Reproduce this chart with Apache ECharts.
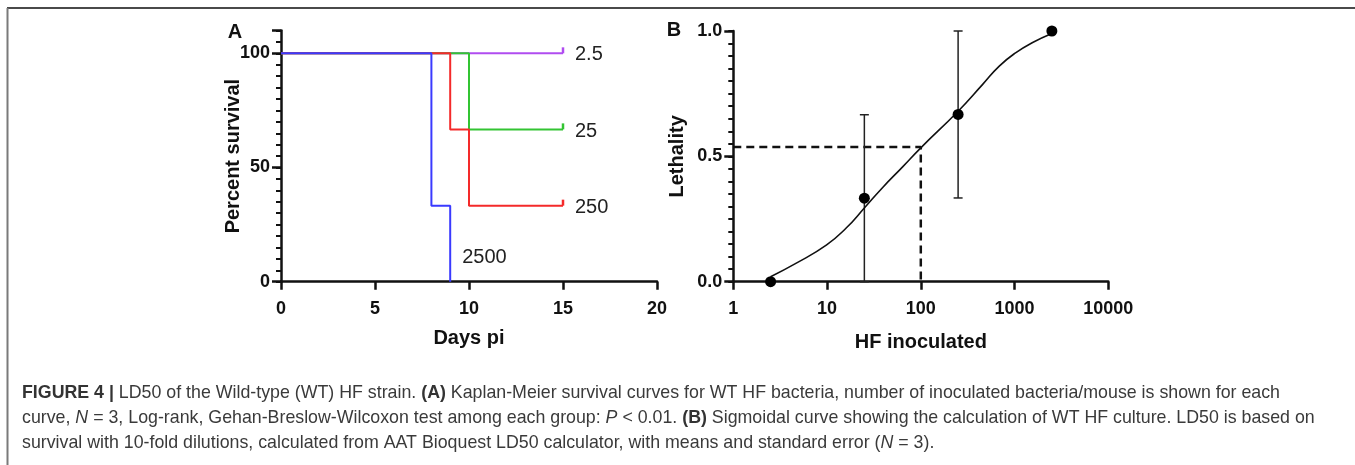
<!DOCTYPE html>
<html>
<head>
<meta charset="utf-8">
<script src="https://cdn.jsdelivr.net/npm/echarts@6/dist/echarts.min.js"></script>
<style>
html,body{margin:0;padding:0;background:#fff;}
#c{width:1355px;height:465px;}
</style>
</head>
<body>
<div id="c"></div>
<script>
// ---------- Panel A: Kaplan-Meier survival ----------
const groupNames = ['2.5', '25', '250', '2500'];
const survPurple = [[0, 100], [15, 100]];                 // 2.5
const survGreen  = [[0, 100], [10, 66.7], [15, 66.7]];    // 25
const survRed    = [[0, 100], [9, 66.7], [10, 33.3], [15, 33.3]]; // 250
const survBlue   = [[0, 100], [8, 33.3], [9, 0]];         // 2500
const daysTicks = [0, 5, 10, 15, 20];

// ---------- Panel B: LD50 sigmoid ----------
const doses      = [2.5, 25, 250, 2500];
const lethality  = [0, 0.333, 0.667, 1.0];
const lethSE     = [0, 0.333, 0.333, 0];
const fitCurve   = [[2.5, 0.02], [4.7, 0.074], [9.9, 0.147], [16, 0.214], [25, 0.294], [39, 0.375],
                    [64, 0.458], [100, 0.534], [250, 0.68], [457, 0.787], [687, 0.86], [1035, 0.914],
                    [1560, 0.954], [2500, 0.99]];
const ld50Dose = 100;
const ld50Leth = 0.537;

// ---------- Caption ----------
const captionLines = [
  '{b|FIGURE 4 |} LD50 of the Wild-type (WT) HF strain. {b|(A)} Kaplan-Meier survival curves for WT HF bacteria, number of inoculated bacteria/mouse is shown for each',
  'curve, {i|N} = 3, Log-rank, Gehan-Breslow-Wilcoxon test among each group: {i|P} < 0.01. {b|(B)} Sigmoidal curve showing the calculation of WT HF culture. LD50 is based on',
  'survival with 10-fold dilutions, calculated from AAT Bioquest LD50 calculator, with means and standard error ({i|N} = 3).'
];
const captionLineWidths = [1270, 1316, 866];   // measured widths of the caption lines in the figure

const chart = echarts.init(document.getElementById('c'), null, {renderer: 'canvas'});
const FONT = '"Liberation Sans", Arial, Helvetica, sans-serif';
const axisCol = '#111';

// least-squares fit of one caption font size to the measured line widths
const mctx = document.createElement('canvas').getContext('2d');
mctx.font = '16px ' + FONT;
let num = 0, den = 0;
captionLines.forEach((t, i) => {
  const w = mctx.measureText(t.replace(/\{[a-z]\|([^}]*)\}/g, '$1')).width;
  num += captionLineWidths[i] * w; den += w * w;
});
const capSize = Math.round(16 * num / den * 10) / 10;

function censor(pt) {
  return {value: pt, symbol: 'rect', symbolSize: [2.5, 6], symbolOffset: [0, -3]};
}
function kmSeries(name, data, color, censored, labelOffset) {
  const d = data.map((p, i) => (censored && i === data.length - 1) ? censor(p) : p);
  return {
    name: name, type: 'line', step: 'end', xAxisIndex: 0, yAxisIndex: 0,
    data: d, symbol: 'none', showSymbol: true, silent: true,
    lineStyle: {color: color, width: 2}, itemStyle: {color: color},
    endLabel: {show: true, formatter: '{a}', distance: 12, offset: labelOffset,
      color: '#222', fontSize: 20, fontFamily: FONT},
    animation: false, z: 3
  };
}

const errData = doses.map((d, i) => [d, lethality[i] - lethSE[i], lethality[i] + lethSE[i]])
  .filter((r, i) => lethSE[i] > 0);

const nameStyle = {color: '#111', fontSize: 20, fontWeight: 'bold', fontFamily: FONT};
const tickLabel = {color: '#111', fontSize: 18, fontWeight: 'bold', fontFamily: FONT};

const option = {
  animation: false,
  backgroundColor: '#fff',
  grid: [
    {left: 281, top: 30.5, width: 376, height: 251.2, containLabel: false},
    {left: 733.3, top: 31, width: 375, height: 250.7, containLabel: false}
  ],
  xAxis: [
    {gridIndex: 0, type: 'value', min: 0, max: 20, interval: 5,
      axisLine: {lineStyle: {color: axisCol, width: 2.5}},
      axisTick: {length: 8, lineStyle: {color: axisCol, width: 2.5}},
      axisLabel: Object.assign({margin: 18, formatter: v => daysTicks.indexOf(v) >= 0 ? String(v) : ''}, tickLabel),
      splitLine: {show: false},
      name: 'Days pi', nameLocation: 'middle', nameGap: 47, nameMoveOverlap: false,
      nameTextStyle: nameStyle},
    {gridIndex: 1, type: 'log', logBase: 10, min: 1, max: 10000,
      axisLine: {lineStyle: {color: axisCol, width: 2.5}},
      axisTick: {length: 8, lineStyle: {color: axisCol, width: 2.5}},
      axisLabel: Object.assign({margin: 18, formatter: v => String(Math.round(v))}, tickLabel),
      minorTick: {show: false}, splitLine: {show: false},
      name: 'HF inoculated', nameLocation: 'middle', nameGap: 51, nameMoveOverlap: false,
      nameTextStyle: nameStyle}
  ],
  yAxis: [
    {gridIndex: 0, type: 'value', min: 0, max: 110, interval: 5, position: 'left',
      axisLine: {show: true, lineStyle: {color: axisCol, width: 2.5}},
      axisTick: {show: true, length: 5, lineStyle: {color: axisCol, width: 2}},
      axisLabel: Object.assign({margin: 11, formatter: v => (v % 50 === 0 && v <= 100) ? String(v) : ''}, tickLabel),
      splitLine: {show: false},
      name: 'Percent survival', nameLocation: 'middle', nameGap: 38, nameMoveOverlap: false,
      nameTextStyle: nameStyle},
    {gridIndex: 0, type: 'value', min: 0, max: 110, interval: 50, position: 'left',
      axisLine: {show: false}, axisLabel: {show: false}, splitLine: {show: false},
      axisTick: {show: true, length: 9, lineStyle: {color: axisCol, width: 2.5}}},
    {gridIndex: 1, type: 'value', min: 0, max: 1, interval: 0.05, position: 'left',
      axisLine: {show: true, lineStyle: {color: axisCol, width: 2.5}},
      axisTick: {show: true, length: 5, lineStyle: {color: axisCol, width: 2}},
      axisLabel: Object.assign({margin: 11, formatter: v => Math.abs(v * 2 - Math.round(v * 2)) < 1e-6 ? v.toFixed(1) : ''}, tickLabel),
      splitLine: {show: false},
      name: 'Lethality', nameLocation: 'middle', nameGap: 46, nameMoveOverlap: false,
      nameTextStyle: nameStyle},
    {gridIndex: 1, type: 'value', min: 0, max: 1, interval: 0.5, position: 'left',
      axisLine: {show: false}, axisLabel: {show: false}, splitLine: {show: false},
      axisTick: {show: true, length: 9, lineStyle: {color: axisCol, width: 2.5}}}
  ],
  series: [
    kmSeries(groupNames[0], survPurple, '#b04cf0', true, [0, 1]),
    kmSeries(groupNames[1], survGreen, '#33c433', true, [0, 2]),
    kmSeries(groupNames[2], survRed, '#f42a2a', true, [0, 2]),
    kmSeries(groupNames[3], survBlue, '#3a3aff', false, [0, -24]),
    // Panel B
    {type: 'line', xAxisIndex: 1, yAxisIndex: 2, data: [[1, ld50Leth], [ld50Dose, ld50Leth], [ld50Dose, 0]],
      symbol: 'none', silent: true, lineStyle: {color: '#111', width: 2.5, type: [8, 5]}, z: 2},
    {type: 'line', xAxisIndex: 1, yAxisIndex: 2, data: fitCurve, smooth: 0.5,
      symbol: 'none', silent: true, lineStyle: {color: '#111', width: 1.6}, z: 3},
    {type: 'custom', xAxisIndex: 1, yAxisIndex: 2, data: errData, clip: false, silent: true, z: 3,
      renderItem: function (params, api) {
        const x = api.value(0), lo = api.value(1), hi = api.value(2);
        const p1 = api.coord([x, lo]), p2 = api.coord([x, hi]);
        const hw = 4.5;
        const st = {stroke: '#222', lineWidth: 1.5};
        return {type: 'group', children: [
          {type: 'line', shape: {x1: p1[0], y1: p1[1], x2: p2[0], y2: p2[1]}, style: st},
          {type: 'line', shape: {x1: p1[0] - hw, y1: p1[1], x2: p1[0] + hw, y2: p1[1]}, style: st},
          {type: 'line', shape: {x1: p2[0] - hw, y1: p2[1], x2: p2[0] + hw, y2: p2[1]}, style: st}
        ]};
      }},
    {type: 'scatter', xAxisIndex: 1, yAxisIndex: 2, data: doses.map((d, i) => [d, lethality[i]]),
      symbol: 'circle', symbolSize: 11, itemStyle: {color: '#000', opacity: 1}, silent: true, clip: false, z: 5}
  ],
  graphic: [
    {type: 'line', shape: {x1: 7, y1: 8, x2: 1355, y2: 8}, style: {stroke: '#4a4a4a', lineWidth: 2}},
    {type: 'line', shape: {x1: 7.5, y1: 8, x2: 7.5, y2: 465}, style: {stroke: '#7a7a7a', lineWidth: 2}},
    {type: 'text', style: {text: 'A', x: 235, y: 32, align: 'center', verticalAlign: 'middle',
      font: 'bold 20px ' + FONT, fill: '#111'}},
    {type: 'text', style: {text: 'B', x: 674, y: 30, align: 'center', verticalAlign: 'middle',
      font: 'bold 20px ' + FONT, fill: '#111'}}
  ].concat(captionLines.map((t, i) => ({
    type: 'text',
    style: {x: 22, y: 393 + i * 25, verticalAlign: 'middle', fill: '#3a3a3a', font: capSize + 'px ' + FONT,
      text: t,
      rich: {b: {fontWeight: 'bold', fontSize: capSize, fontFamily: FONT, fill: '#333'},
             i: {fontStyle: 'italic', fontSize: capSize, fontFamily: FONT, fill: '#3a3a3a'}}}
  })))
};
chart.setOption(option);
</script>
</body>
</html>
